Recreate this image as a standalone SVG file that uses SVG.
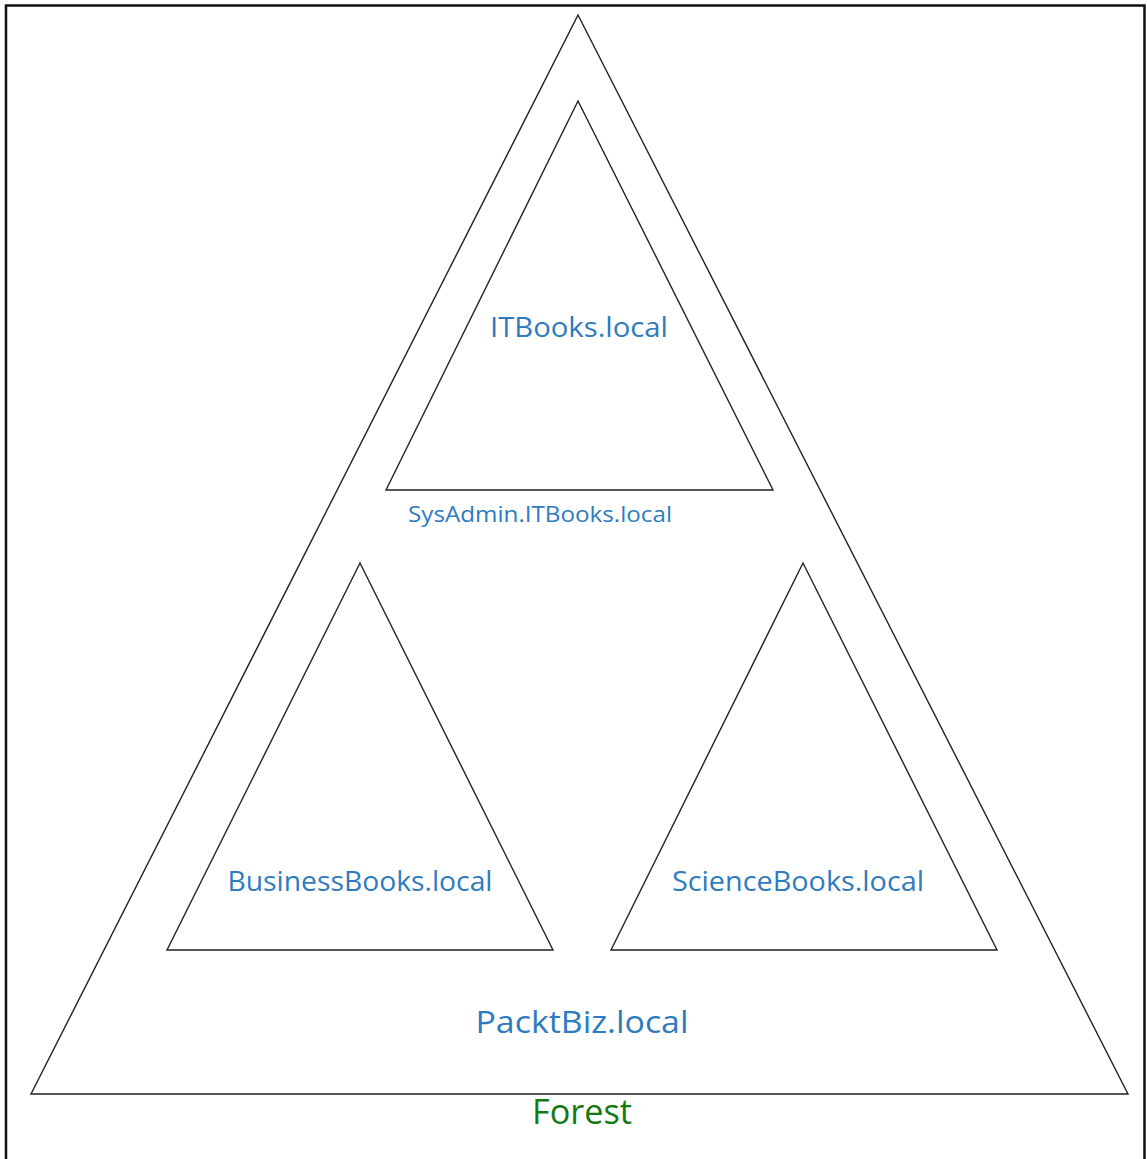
<svg xmlns="http://www.w3.org/2000/svg" width="1147" height="1159" viewBox="0 0 1147 1159">
<style>
.tri{fill:none;stroke:#222;stroke-width:1.4;stroke-linejoin:miter}
.lbl{font-family:"Open Sans","Liberation Sans",sans-serif;fill:#2e7bbf;text-anchor:middle}
.forest{font-family:"Open Sans","Liberation Sans",sans-serif;fill:#137a13;text-anchor:middle}
</style>
<rect width="1147" height="1159" fill="#fff"/>
<path d="M6,1159 V5.5 H1144.5 V1159" fill="none" stroke="#111" stroke-width="2.5"/>
<g id="forest">
<polygon class="tri" points="578,15 1128,1094 31,1094"/>
<text class="forest" x="582" y="1124" font-size="34" textLength="100" lengthAdjust="spacingAndGlyphs">Forest</text>
</g>
<g id="packtbiz">
<text class="lbl" x="582" y="1033" font-size="31" textLength="213" lengthAdjust="spacingAndGlyphs">PacktBiz.local</text>
</g>
<g id="itbooks">
<polygon class="tri" points="578,101 773,490 386,490"/>
<text class="lbl" x="579" y="337" font-size="28" textLength="178" lengthAdjust="spacingAndGlyphs">ITBooks.local</text>
</g>
<g id="sysadmin">
<text class="lbl" x="540" y="522" font-size="21" textLength="264" lengthAdjust="spacingAndGlyphs">SysAdmin.ITBooks.local</text>
</g>
<g id="businessbooks">
<polygon class="tri" points="360,563 553,950 167,950"/>
<text class="lbl" x="360" y="891" font-size="27" textLength="265" lengthAdjust="spacingAndGlyphs">BusinessBooks.local</text>
</g>
<g id="sciencebooks">
<polygon class="tri" points="803,563 997,950 611,950"/>
<text class="lbl" x="798" y="891" font-size="27" textLength="252" lengthAdjust="spacingAndGlyphs">ScienceBooks.local</text>
</g>
<g id="connectors"></g>
</svg>
